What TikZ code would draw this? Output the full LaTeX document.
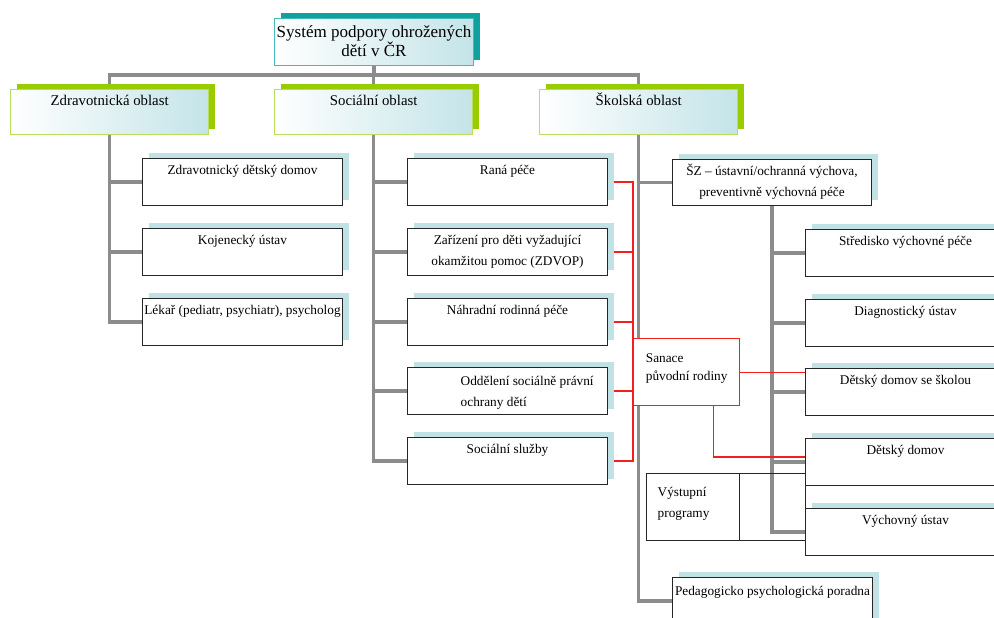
\documentclass[tikz,border=0pt]{standalone}
\usepackage{fontspec}
\setmainfont{Liberation Serif}
\usepackage{xcolor}
\usetikzlibrary{positioning,shadows,backgrounds,calc}
\definecolor{trunkgray}{RGB}{140,140,140}
\definecolor{limeshadow}{RGB}{153,204,0}
\definecolor{limeborder}{RGB}{185,222,95}
\definecolor{paleteal}{RGB}{192,226,229}
\definecolor{titleteal}{RGB}{16,160,160}
\definecolor{titleborder}{RGB}{70,185,185}
\definecolor{fillteal}{RGB}{196,228,232}
\definecolor{linkred}{RGB}{245,30,30}

\begin{document}
\begin{tikzpicture}[x=1pt,y=-1pt,
  txt/.style={anchor=base,yshift=-16pt,inner sep=0pt,align=center,font=\fontsize{13.3}{21}\selectfont},
  twoline/.style={yshift=-21pt},
  lefttxt/.style={txt,anchor=base west,align=left},
  areatxt/.style={txt,yshift=-1pt,font=\fontsize{14.8}{20}\selectfont},
  titletxt/.style={txt,yshift=-23pt,font=\fontsize{17}{20}\selectfont},
  lbox/.style={draw=black!85,line width=1pt,fill=white,anchor=north west,inner sep=0pt,
    minimum width=200pt,minimum height=47pt,
    drop shadow={shadow xshift=6pt,shadow yshift=6pt,fill=paleteal,opacity=1}},
  area/.style={draw=limeborder,line width=1.3pt,left color=white,right color=fillteal,
    anchor=north west,inner sep=0pt,minimum width=198pt,minimum height=45pt,
    drop shadow={shadow xshift=6pt,shadow yshift=6pt,fill=limeshadow,opacity=1}},
  titlebox/.style={draw=titleborder,line width=1pt,left color=white,right color=fillteal,
    anchor=north west,inner sep=0pt,minimum width=199pt,minimum height=47pt,
    drop shadow={shadow xshift=6pt,shadow yshift=5pt,fill=titleteal,opacity=1}},
  redbox/.style={draw=linkred,line width=1.3pt,fill=white,anchor=north west,inner sep=0pt},
  trunk/.style={draw=trunkgray,line width=3.6pt},
  link/.style={draw=linkred,line width=1.3pt}]
\useasboundingbox (0,0) rectangle (994,618);
\clip (0,0) rectangle (994,618);

\node[titlebox,label={[titletxt]north:Systém podpory ohrožených\\dětí v ČR}] (sys) at (274,18) {};
\coordinate (bar) at (374,75);

\node[area,label={[areatxt]north:Zdravotnická oblast}] (zdr) at (10,89) {};
\node[area,label={[areatxt]north:Sociální oblast}] (soc) at (274,89) {};
\node[area,label={[areatxt]north:Školská oblast}] (skol) at (539,89) {};

\node[lbox,label={[txt]north:Zdravotnický dětský domov}] (zddom) at (142,158) {};
\node[lbox,label={[txt]north:Kojenecký ústav}] (kojust) at (142,228) {};
\node[lbox,label={[txt]north:Lékař (pediatr, psychiatr), psycholog}] (lekar) at (142,298) {};

\node[lbox,label={[txt]north:Raná péče}] (rana) at (407,158) {};
\node[lbox,label={[txt,twoline]north:Zařízení pro děti vyžadující\\okamžitou pomoc (ZDVOP)}] (zdvop) at (407,228) {};
\node[lbox,label={[txt]north:Náhradní rodinná péče}] (nrp) at (407,298) {};
\node[lbox,label={[lefttxt,twoline,xshift=-47pt,yshift=-2pt]north:Oddělení sociálně právní\\ochrany dětí}] (ospod) at (407,367) {};
\node[lbox,label={[txt]north:Sociální služby}] (sluzby) at (407,437) {};

\node[lbox,minimum width=199pt,minimum height=46pt,label={[txt,twoline]north:ŠZ – ústavní/ochranná výchova,\\preventivně výchovná péče}] (sz) at (672,159) {};
\node[lbox,label={[txt]north:Středisko výchovné péče}] (svp) at (805,229) {};
\node[lbox,label={[txt]north:Diagnostický ústav}] (diag) at (805,299) {};
\node[lbox,label={[txt]north:Dětský domov se školou}] (ddsk) at (805,368) {};
\node[lbox,label={[txt]north:Dětský domov}] (ddom) at (805,438) {};
\node[lbox,label={[txt]north:Výchovný ústav}] (vu) at (805,508) {};
\node[lbox,label={[txt,yshift=-2pt]north:Pedagogicko psychologická poradna}] (ppp) at (672,577) {};

\node[redbox,minimum width=106pt,minimum height=67pt,
  label={[lefttxt,xshift=-41pt,yshift=-26pt,font=\fontsize{13.3}{18}\selectfont]north:Sanace\\původní rodiny}] (san) at (633,338) {};
\node[draw=black!85,line width=1pt,anchor=north west,inner sep=0pt,minimum width=159pt,minimum height=67pt,
  label={[lefttxt,twoline,xshift=-68.5pt,yshift=-7pt]north:Výstupní\\programy}] (vyst) at (646,473) {};
\draw[black!85,line width=1pt] ([xshift=93pt]vyst.north west) -- ([xshift=93pt]vyst.south west);

\begin{scope}[on background layer]
  \fill[white] (0,0) rectangle (994,618);
  \draw[trunk] (sys) -- (sys |- bar);
  \draw[trunk] (lekar.west) -| (bar -| zdr.center) -- (bar -| skol.center) |- (ppp.west);
  \draw[trunk] (bar -| soc.center) |- (sluzby.west);
  \foreach \n in {zddom,kojust}
    \draw[trunk] (zdr.center) |- (\n.west);
  \foreach \n in {rana,zdvop,nrp,ospod}
    \draw[trunk] (soc.center) |- (\n.west);
  \draw[trunk] (skol.center) |- (sz.west);
  \draw[trunk] (sz.south) |- (vu.west);
  \foreach \n in {svp,diag,ddsk,ddom}
    \draw[trunk] (sz.south) |- (\n.west);
  \draw[link] (rana.east) -- (rana.east -| san.west) -- (sluzby.east -| san.west) -- (sluzby.east);
  \foreach \n in {zdvop,nrp,ospod}
    \draw[link] (\n.east) -- (\n.east -| san.west);
  \draw[link] (san.east) -- (san.east -| ddsk.west);
  \draw[link] ($(san.south)!0.5!(san.south east)$) |- ([yshift=5pt]ddom.west);
\end{scope}
\end{tikzpicture}
\end{document}
